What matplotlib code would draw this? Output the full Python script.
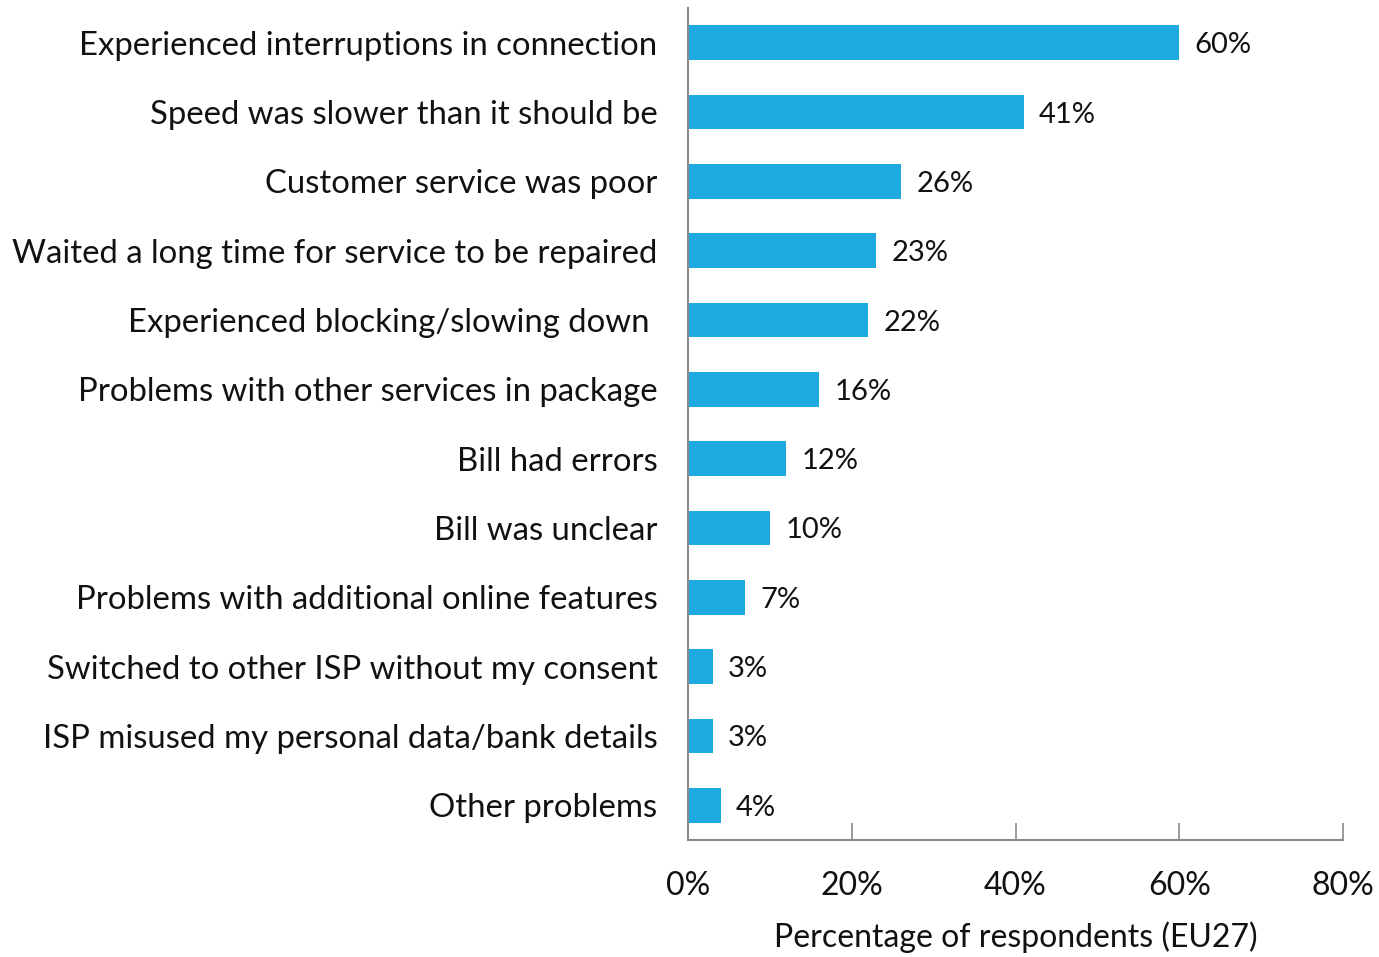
import matplotlib
matplotlib.use("Agg")
import matplotlib.pyplot as plt
from matplotlib.ticker import FuncFormatter

categories = [
    "Experienced interruptions in connection",
    "Speed was slower than it should be",
    "Customer service was poor",
    "Waited a long time for service to be repaired",
    "Experienced blocking/slowing down ",
    "Problems with other services in package",
    "Bill had errors",
    "Bill was unclear",
    "Problems with additional online features",
    "Switched to other ISP without my consent",
    "ISP misused my personal data/bank details",
    "Other problems",
]
values = [60, 41, 26, 23, 22, 16, 12, 10, 7, 3, 3, 4]
xticks = [0, 20, 40, 60, 80]
xlabel = "Percentage of respondents (EU27)"

plt.rcParams['font.family'] = ['Lato', 'DejaVu Sans']
BLUE = "#1ea9e1"
GREY = "#8a8a8a"

fig = plt.figure(figsize=(13.79, 9.57), dpi=100)
ax = fig.add_axes([688/1379, 1-840/957, (1343-688)/1379, (840-8)/957])

y = list(range(len(categories)))
ax.barh(y, values, height=0.5, color=BLUE)
ax.set_ylim(len(categories)-0.5, -0.5)
ax.set_xlim(0, 80)
ax.set_yticks(y)
ax.set_yticklabels(categories, fontsize=23.7, color="#111111")
ax.tick_params(axis='y', length=0, pad=22)
ax.set_xticks(xticks)
ax.xaxis.set_major_formatter(FuncFormatter(lambda v, p: f"{v:.0f}%"))
ax.tick_params(axis='x', direction='in', length=12, width=1.2, color=GREY,
               labelsize=23, pad=22, labelcolor="#111111")

for s in ['top', 'right']:
    ax.spines[s].set_visible(False)
for s in ['left', 'bottom']:
    ax.spines[s].set_color(GREY)
    ax.spines[s].set_linewidth(1.5)

for yi, v in zip(y, values):
    ax.annotate(f"{v}%", xy=(v, yi), xytext=(11, 0), textcoords='offset points',
                va='center_baseline', ha='left', fontsize=21, color="#111111")

ax.set_xlabel(xlabel, fontsize=23, labelpad=15, color="#111111")

fig.savefig("out.png", dpi=100)
